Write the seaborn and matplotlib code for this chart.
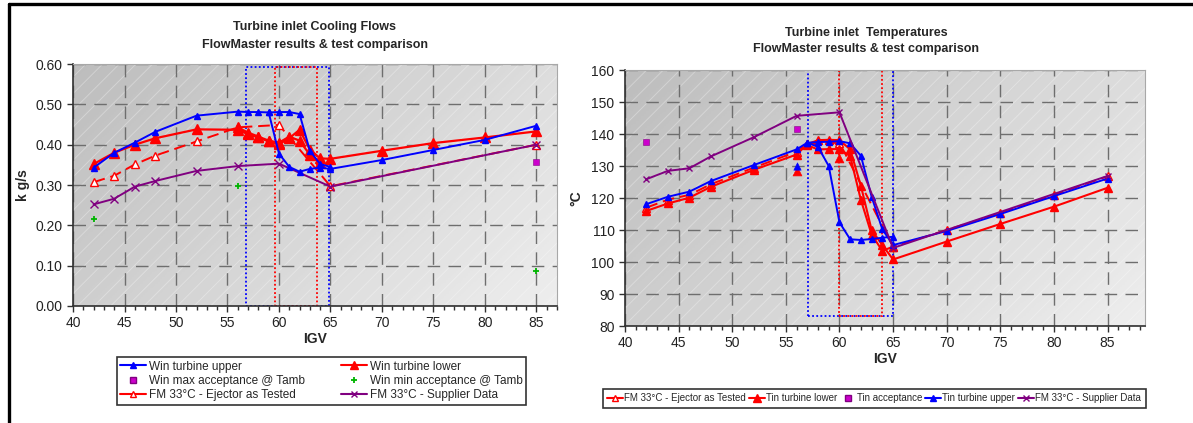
#Turbine inlet cooling flows and temperatures
#FlowMaster results vs test, two panels side by side

import numpy as np
import pandas as pd
import seaborn as sns
from matplotlib import pyplot as plt
from matplotlib.lines import Line2D
from matplotlib.patches import Rectangle
from matplotlib.colors import LinearSegmentedColormap
from matplotlib.ticker import MultipleLocator, FormatStrFormatter

# ---------------- data : cooling flows (kg/s) ----------------
igv_up_a = [42, 44, 46, 48, 52, 56, 57, 58, 59, 60, 61, 62, 63, 64, 65, 70, 75, 80, 85]
win_up_a = [0.343, 0.380, 0.405, 0.432, 0.472, 0.482, 0.481, 0.481, 0.480, 0.378, 0.345,
            0.333, 0.340, 0.343, 0.340, 0.362, 0.387, 0.412, 0.447]
igv_up_b = [59, 60, 61, 62, 63, 64, 65]
win_up_b = [0.480, 0.481, 0.481, 0.476, 0.385, 0.352, 0.345]

igv_lo_a = [42, 44, 46, 48, 52, 56, 57, 58, 59, 60, 61, 62, 63, 64, 65, 70, 75, 80, 85]
win_lo_a = [0.352, 0.380, 0.400, 0.416, 0.438, 0.437, 0.426, 0.418, 0.408, 0.401, 0.416,
            0.437, 0.388, 0.366, 0.365, 0.385, 0.404, 0.418, 0.433]
igv_lo_b = [56, 57, 58, 59, 60, 61, 62, 63, 64]
win_lo_b = [0.443, 0.430, 0.420, 0.410, 0.405, 0.420, 0.410, 0.375, 0.355]

igv_fm = [42, 44, 46, 48, 52, 56, 60, 65, 85]
win_fm_ejector = [0.307, 0.323, 0.351, 0.373, 0.408, 0.443, 0.449, 0.297, 0.400]
win_fm_supplier = [0.252, 0.266, 0.296, 0.310, 0.335, 0.347, 0.353, 0.296, 0.400]

igv_win_max = [85]
win_max_acc = [0.357]
igv_win_min = [42, 56, 85]
win_min_acc = [0.215, 0.298, 0.088]

# ---------------- data : temperatures (degC) ----------------
igv_tup_a = [42, 44, 46, 48, 52, 56, 57, 58, 59, 60, 61, 62, 63, 64, 65]
tin_up_a = [118.1, 120.4, 122.0, 125.3, 130.3, 135.2, 137.3, 136.0, 130.0, 112.4, 107.1,
            106.9, 107.2, 107.6, 107.9]
igv_tup_b = [57, 58, 59, 60, 61, 62, 63, 64, 65, 70, 75, 80, 85]
tin_up_b = [137.3, 137.5, 137.6, 137.8, 137.1, 133.2, 120.4, 110.2, 105.3, 109.7, 115.0,
            120.6, 126.1]
igv_tup_pt = [56]
tin_up_pt = [130.0]

igv_tlo_a = [42, 44, 46, 48, 52, 56, 57, 58, 59, 60, 61, 62, 63, 64, 65, 70, 75, 80, 85]
tin_lo_a = [116.0, 118.3, 120.1, 123.5, 128.8, 133.6, 136.8, 138.1, 138.2, 138.1, 135.2,
            123.8, 110.0, 105.3, 100.8, 106.4, 111.9, 117.3, 123.2]
igv_tlo_b = [57, 58, 59, 60, 61, 62, 63, 64, 65]
tin_lo_b = [136.5, 135.2, 135.3, 135.3, 133.1, 119.4, 108.6, 103.5, 104.8]
igv_tlo_pt = [56, 60]
tin_lo_pt = [128.3, 132.5]

igv_tfm_ej = [42, 44, 46, 48, 52, 56, 57, 60, 65, 70, 75, 80, 85]
tin_fm_ejector = [117.0, 119.5, 121.0, 124.3, 129.5, 134.5, 137.0, 137.3, 104.8, 110.0,
                  115.3, 121.0, 126.8]
igv_tfm_sup = [42, 44, 46, 48, 52, 56, 60, 65, 85]
tin_fm_supplier = [125.9, 128.5, 129.3, 133.0, 139.0, 145.7, 146.8, 104.4, 126.9]

igv_tacc = [42, 56]
tin_acc = [137.6, 141.6]

# dotted test windows (x0, x1, y0, y1)
flow_blue_box = (56.8, 64.85, 0.0, 0.593)
flow_red_box = (59.6, 63.7, 0.0, 0.593)
temp_blue_box = (57.1, 65.0, 83.0, 160.0)
temp_red_box = (60.0, 64.0, 83.0, 160.0)

BLUE = '#0000ff'
RED = '#ff0000'
PURPLE = '#800080'
MAGENTA = '#cc00cc'
GREEN = '#00b400'

sns.set_style('ticks')
plt.rcParams['font.family'] = ['Liberation Sans', 'DejaVu Sans']
plt.rcParams['hatch.linewidth'] = 0.7

fig = plt.figure(figsize=(11.93, 4.23), dpi=100)
ax1 = fig.add_axes([0.0612, 0.2766, 0.4057, 0.572])
ax2 = fig.add_axes([0.5239, 0.2293, 0.4359, 0.605])

bg_cmap = LinearSegmentedColormap.from_list('bg', ['#bdbdbd', '#eeeeee'])
gx, gy = np.meshgrid(np.linspace(0, 1, 200), np.linspace(0, 1, 200))
grad = 0.65 * gx + 0.35 * gy


def decorate(ax):
    ax.imshow(grad, extent=[0, 1, 0, 1], transform=ax.transAxes, cmap=bg_cmap,
              aspect='auto', zorder=0, origin='upper')
    ax.add_patch(Rectangle((0, 0), 1, 1, transform=ax.transAxes, fill=False, lw=0,
                           hatch='//', edgecolor=(1, 1, 1, 0.3), zorder=0.5))
    ax.grid(True, which='major', color='#6e6e6e', ls=(0, (9, 6)), lw=1, zorder=1)
    ax.set_axisbelow(True)
    for s in ['top', 'right']:
        ax.spines[s].set_color('#a8a8a8')
    for s in ['left', 'bottom']:
        ax.spines[s].set_color('#303030')
        ax.spines[s].set_linewidth(1.2)
    ax.xaxis.set_major_locator(MultipleLocator(5))
    ax.xaxis.set_minor_locator(MultipleLocator(1))
    ax.tick_params(which='major', length=4, width=1, labelsize=10, color='#303030',
                   labelcolor='#222222')
    ax.tick_params(which='minor', length=3, width=1, color='#303030')
    ax.set_xlabel('IGV', fontsize=10, fontweight='bold', labelpad=1)


def line(ax, x, y, color, marker, ms, lw=1.4, ls='-', mfc=None, z=3):
    sns.lineplot(x=x, y=y, ax=ax, color=color, lw=lw, ls=ls, marker=marker,
                 markersize=ms, markerfacecolor=mfc if mfc else color,
                 markeredgecolor=color, markeredgewidth=1.0,
                 estimator=None, sort=False, legend=False, zorder=z)


def box(ax, b, color):
    ax.add_patch(Rectangle((b[0], b[2]), b[1] - b[0], b[3] - b[2], fill=False,
                           edgecolor=color, ls=(0, (1, 1.3)), lw=1.3, zorder=2))


# ---------------- left panel ----------------
decorate(ax1)
box(ax1, flow_blue_box, BLUE)
box(ax1, flow_red_box, RED)
line(ax1, igv_fm, win_fm_ejector, RED, '^', 6, ls=(0, (6, 3)), mfc='white')
line(ax1, igv_fm, win_fm_supplier, PURPLE, 'x', 6)
line(ax1, igv_lo_a, win_lo_a, RED, '^', 7, lw=1.6)
line(ax1, igv_lo_b, win_lo_b, RED, '^', 7, lw=1.6)
line(ax1, igv_up_a, win_up_a, BLUE, '^', 5)
line(ax1, igv_up_b, win_up_b, BLUE, '^', 5)
sns.scatterplot(x=igv_win_max, y=win_max_acc, ax=ax1, color=MAGENTA, marker='s', s=22,
                edgecolor=PURPLE, zorder=4, legend=False)
sns.scatterplot(x=igv_win_min, y=win_min_acc, ax=ax1, color=GREEN, marker='+', s=25,
                linewidth=1.3, zorder=4, legend=False)
ax1.set_xlim(40, 87)
ax1.set_ylim(0, 0.6)
ax1.yaxis.set_major_locator(MultipleLocator(0.1))
ax1.yaxis.set_major_formatter(FormatStrFormatter('%.2f'))
ax1.set_ylabel('k g/s', fontsize=10, fontweight='bold', labelpad=4)

# ---------------- right panel ----------------
decorate(ax2)
box(ax2, temp_blue_box, BLUE)
box(ax2, temp_red_box, RED)
line(ax2, igv_tfm_ej, tin_fm_ejector, RED, '^', 6, ls=(0, (6, 3)), mfc='white')
line(ax2, igv_tlo_a, tin_lo_a, RED, '^', 6, lw=1.5)
line(ax2, igv_tlo_b, tin_lo_b, RED, '^', 6, lw=1.5)
sns.scatterplot(x=igv_tlo_pt, y=tin_lo_pt, ax=ax2, color=RED, marker='^', s=40,
                edgecolor=RED, zorder=4, legend=False)
line(ax2, igv_tup_a, tin_up_a, BLUE, '^', 5)
line(ax2, igv_tup_b, tin_up_b, BLUE, '^', 5)
sns.scatterplot(x=igv_tup_pt, y=tin_up_pt, ax=ax2, color=BLUE, marker='^', s=28,
                edgecolor=BLUE, zorder=4, legend=False)
line(ax2, igv_tfm_sup, tin_fm_supplier, PURPLE, 'x', 5, z=3.5)
sns.scatterplot(x=igv_tacc, y=tin_acc, ax=ax2, color=MAGENTA, marker='s', s=22,
                edgecolor=PURPLE, zorder=4, legend=False)
ax2.set_xlim(40, 88.5)
ax2.set_ylim(80, 160)
ax2.yaxis.set_major_locator(MultipleLocator(10))
ax2.set_ylabel('°C', fontsize=10, fontweight='bold', labelpad=6)

# ---------------- titles ----------------
fig.text(0.264, 0.935, 'Turbine inlet Cooling Flows', ha='center', va='center',
         fontsize=9, fontweight='bold')
fig.text(0.264, 0.893, 'FlowMaster results & test comparison', ha='center', va='center',
         fontsize=9, fontweight='bold')
fig.text(0.726, 0.922, 'Turbine inlet  Temperatures', ha='center', va='center',
         fontsize=9, fontweight='bold')
fig.text(0.726, 0.884, 'FlowMaster results & test comparison', ha='center', va='center',
         fontsize=9, fontweight='bold')

# ---------------- legends ----------------
h_up = Line2D([], [], color=BLUE, marker='^', ms=5, lw=1.5)
h_lo = Line2D([], [], color=RED, marker='^', ms=6, lw=1.5)
h_max = Line2D([], [], color=MAGENTA, marker='s', ms=4, lw=0, mec=PURPLE)
h_min = Line2D([], [], color=GREEN, marker='+', ms=5, lw=0, mew=1.3)
h_ej = Line2D([], [], color=RED, marker='^', ms=5, lw=1.5, mfc='white')
h_sup = Line2D([], [], color=PURPLE, marker='x', ms=5, lw=1.5)

leg1 = fig.legend([h_up, h_max, h_ej, h_lo, h_min, h_sup],
                  ['Win turbine upper', 'Win max acceptance @ Tamb',
                   'FM 33°C - Ejector as Tested', 'Win turbine lower',
                   'Win min acceptance @ Tamb', 'FM 33°C - Supplier Data'],
                  ncol=2, loc='lower left', bbox_to_anchor=(0.098, 0.043, 0.343, 0.113),
                  mode='expand', fancybox=False, edgecolor='black', fontsize=8.5,
                  handlelength=2.2, handletextpad=0.2, borderpad=0.3, labelspacing=0.2,
                  borderaxespad=0)
leg1.get_frame().set_linewidth(1.2)

h_tup = Line2D([], [], color=BLUE, marker='^', ms=5, lw=1.5)
h_tlo = Line2D([], [], color=RED, marker='^', ms=6, lw=1.5)
h_tacc = Line2D([], [], color=MAGENTA, marker='s', ms=4, lw=0, mec=PURPLE)
leg2 = fig.legend([h_ej, h_tlo, h_tacc, h_tup, h_sup],
                  ['FM 33°C - Ejector as Tested', 'Tin turbine lower', 'Tin acceptance',
                   'Tin turbine upper', 'FM 33°C - Supplier Data'],
                  ncol=5, loc='lower left', bbox_to_anchor=(0.5054, 0.036),
                  fancybox=False, edgecolor='black', fontsize=7.0,
                  handlelength=1.6, handletextpad=0.15, borderpad=0.45, columnspacing=0.3,
                  borderaxespad=0)
leg2.get_frame().set_linewidth(1.2)

# frame lines of the original sheet (top and left)
fig.add_artist(Line2D([0.0075, 1.0], [0.991, 0.991], color='black', lw=2.4,
                      transform=fig.transFigure))
fig.add_artist(Line2D([0.0075, 0.0075], [0.0, 0.991], color='black', lw=2.4,
                      transform=fig.transFigure))

fig.savefig('out.png', dpi=100)
